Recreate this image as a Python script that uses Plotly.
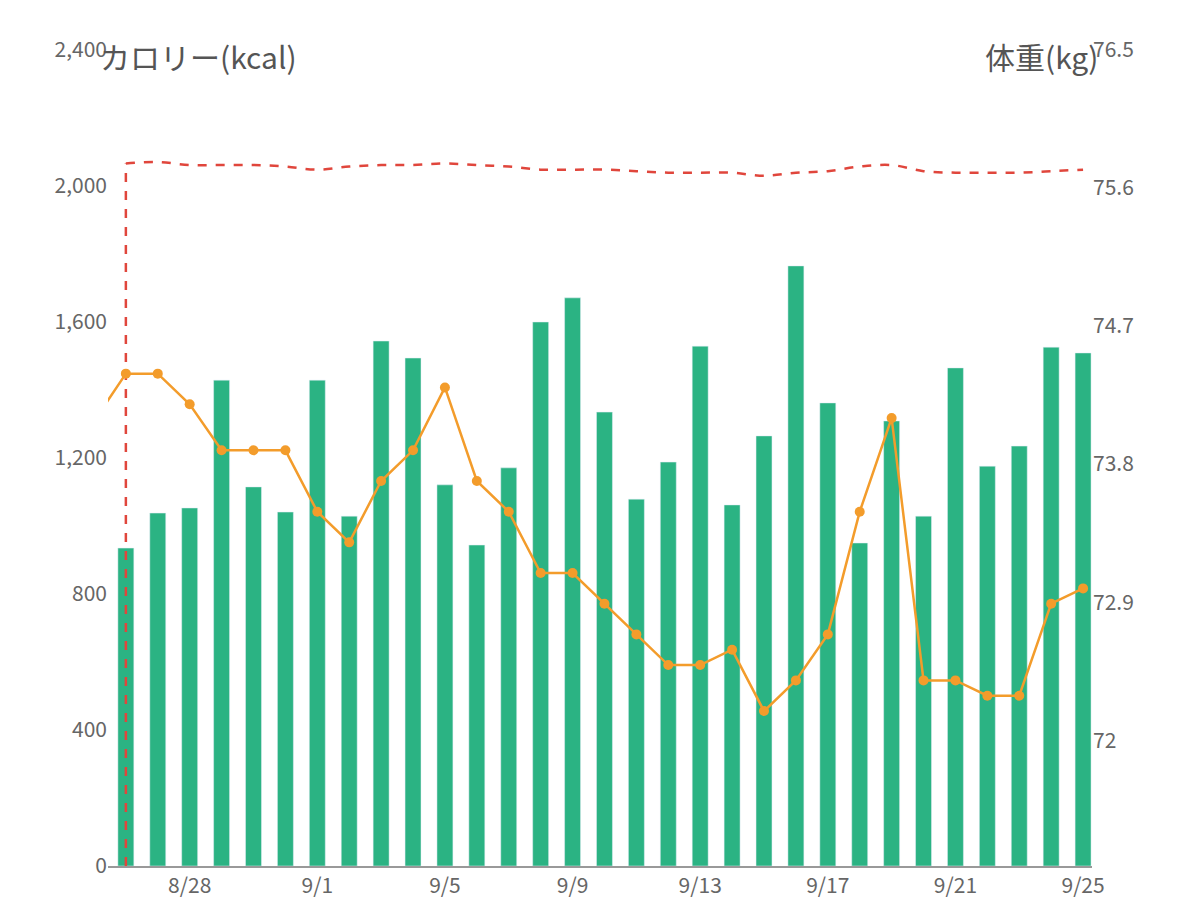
import plotly.graph_objects as go

dates = ["8/26","8/27","8/28","8/29","8/30","8/31","9/1","9/2","9/3","9/4","9/5","9/6","9/7","9/8","9/9","9/10",
         "9/11","9/12","9/13","9/14","9/15","9/16","9/17","9/18","9/19","9/20","9/21","9/22","9/23","9/24","9/25"]
calories = [935,1038,1053,1429,1115,1041,1429,1029,1544,1494,1121,944,1171,1600,1671,1335,
            1079,1188,1529,1062,1265,1765,1362,950,1309,1029,1465,1176,1235,1526,1509]
prev_weight = 74.08
weight = [74.39,74.39,74.19,73.89,73.89,73.89,73.49,73.29,73.69,73.89,74.30,73.69,73.49,73.09,73.09,72.89,
          72.69,72.49,72.49,72.59,72.19,72.39,72.69,73.49,74.10,72.39,72.39,72.29,72.29,72.89,72.99]
target = [75.76,75.77,75.75,75.75,75.75,75.74,75.72,75.74,75.75,75.75,75.76,75.75,75.74,75.72,75.72,75.72,
          75.71,75.70,75.70,75.70,75.68,75.70,75.71,75.74,75.75,75.71,75.70,75.70,75.70,75.71,75.72]
tick_labels = ["8/28","9/1","9/5","9/9","9/13","9/17","9/21","9/25"]
left_ticks = [0,400,800,1200,1600,2000,2400]
right_ticks = [72,72.9,73.8,74.7,75.6,76.5]

idx = list(range(len(dates)))
FONT = "Noto Sans CJK JP"
fig = go.Figure()
fig.add_trace(go.Bar(x=idx, y=calories, marker_color="#2bb383", width=0.5, yaxis="y"))
fig.add_trace(go.Scatter(x=[idx[0], idx[0]], y=[71.18, target[0]], mode="lines", yaxis="y2",
                         line=dict(color="#e0463c", width=2.5, dash="dash")))
fig.add_trace(go.Scatter(x=idx, y=target, mode="lines", yaxis="y2",
                         line=dict(color="#e0463c", width=2.5, dash="dash", shape="spline")))
fig.add_trace(go.Scatter(x=[-1]+idx, y=[prev_weight]+weight, mode="lines+markers", yaxis="y2",
                         line=dict(color="#f39c2b", width=2.5), marker=dict(size=10, color="#f39c2b")))
fig.update_layout(
    width=1200, height=919, showlegend=False, plot_bgcolor="white", paper_bgcolor="white",
    margin=dict(l=100, r=116, t=42, b=61),
    font=dict(family=FONT, size=21, color="#666"),
    xaxis=dict(range=[-0.56, 30.28], tickvals=[idx[dates.index(t)] for t in tick_labels], ticktext=tick_labels,
               showgrid=False, showline=True, linecolor="#999", linewidth=1.5, ticks="", zeroline=False),
    yaxis=dict(range=[0, 2400], tickvals=left_ticks, ticktext=["0","400","800","1,200","1,600","2,000","2,400"],
               showgrid=False, zeroline=False, ticks=""),
    yaxis2=dict(range=[71.18, 76.5], overlaying="y", side="right", tickvals=right_ticks,
                ticktext=["72","72.9","73.8","74.7","75.6","76.5"], showgrid=False, zeroline=False, ticks=""),
    annotations=[
        dict(text="カロリー(kcal)", xref="paper", yref="paper", x=0, y=1.0, xanchor="left", yanchor="middle",
             showarrow=False, font=dict(size=30, color="#555", family=FONT), xshift=-10, yshift=-6),
        dict(text="体重(kg)", xref="paper", yref="paper", x=1.0, y=1.0, xanchor="right", yanchor="middle",
             showarrow=False, font=dict(size=30, color="#555", family=FONT), xshift=8, yshift=-6),
    ],
)
fig.write_html("out.html")
